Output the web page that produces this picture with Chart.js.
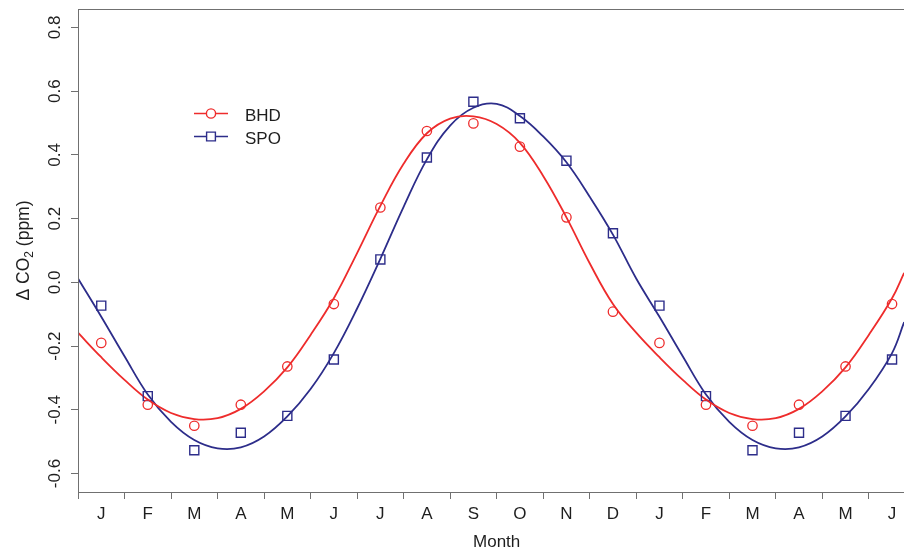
<!DOCTYPE html>
<html>
<head>
<meta charset="utf-8">
<script src="https://cdn.jsdelivr.net/npm/chart.js@4/dist/chart.umd.min.js"></script>
<style>
  html, body { margin: 0; padding: 0; background: #fff; overflow: hidden; }
  /* plot runs past the right edge of the window, like the cropped original */
  #wrap { width: 930px; height: 549px; }
</style>
</head>
<body>
<div id="wrap"><canvas id="dia"></canvas></div>
<script>
// ===============================
// Data
// ===============================
const months = ["J","F","M","A","M","J","J","A","S","O","N","D","J","F","M","A","M","J"];
const monthX = [0.5,1.5,2.5,3.5,4.5,5.5,6.5,7.5,8.5,9.5,10.5,11.5,12.5,13.5,14.5,15.5,16.5,17.5];

// monthly means
const bhd = [-0.19,-0.384,-0.45,-0.384,-0.264,-0.068,0.235,0.475,0.499,0.426,0.204,-0.092,
             -0.19,-0.384,-0.45,-0.384,-0.264,-0.068];
const spo = [-0.073,-0.357,-0.527,-0.472,-0.419,-0.242,0.072,0.392,0.567,0.515,0.382,0.154,
             -0.073,-0.357,-0.527,-0.472,-0.419,-0.242];

// fitted curves, read every half month
const fitT = [0,0.5,1,1.5,2,2.5,3,3.5,4,4.5,5,5.5,6,6.5,7,7.5,8,8.5,9,9.5,10,10.5,11,11.5,
              12,12.5,13,13.5,14,14.5,15,15.5,16,16.5,17,17.5,17.76];
const bhdFit = [-0.158,-0.235,-0.306,-0.368,-0.410,-0.429,-0.426,-0.397,-0.342,-0.267,-0.165,-0.050,
                0.092,0.240,0.372,0.468,0.514,0.521,0.497,0.438,0.334,0.204,0.060,-0.068,
                -0.158,-0.235,-0.306,-0.368,-0.410,-0.429,-0.426,-0.397,-0.342,-0.267,-0.165,-0.050,0.030];
const spoFit = [0.012,-0.108,-0.232,-0.352,-0.438,-0.495,-0.521,-0.518,-0.484,-0.421,-0.335,-0.222,
                -0.082,0.074,0.237,0.386,0.492,0.548,0.560,0.522,0.458,0.377,0.269,0.150,
                0.012,-0.108,-0.232,-0.352,-0.438,-0.495,-0.521,-0.518,-0.484,-0.421,-0.335,-0.222,-0.125];

// axes
const xTicks = [0,1,2,3,4,5,6,7,8,9,10,11,12,13,14,15,16,17,18];
const yTicks = [-0.6,-0.4,-0.2,0,0.2,0.4,0.6,0.8];
const yLabels = ["-0.6","-0.4","-0.2","0.0","0.2","0.4","0.6","0.8"];

// ===============================
// Styles
// ===============================
const FONT = '"Liberation Sans", Arial, Helvetica, sans-serif';
const RED = "#ee2c2c";
const BLUE = "#2d2d8a";
const AXIS = "#707070";
const TXT = "#1e1e1e";

function pts(xs, ys) {
    return xs.map((x, i) => ({ x: x, y: ys[i] }));
}

// ===============================
// Box, labels, titles and legend
// ===============================
const decor = {
    id: "decor",
    afterDraw(chart) {
        const ctx = chart.ctx;
        const a = chart.chartArea;
        const xs = chart.scales.x;
        const ys = chart.scales.y;
        ctx.save();

        // box round the plot
        ctx.strokeStyle = AXIS;
        ctx.lineWidth = 1;
        ctx.strokeRect(a.left + 0.5, a.top + 0.5, a.right - a.left, a.bottom - a.top);

        ctx.fillStyle = TXT;
        ctx.font = "17px " + FONT;

        // month letters in the middle of each month
        ctx.textAlign = "center";
        ctx.textBaseline = "alphabetic";
        months.forEach((m, i) => {
            ctx.fillText(m, xs.getPixelForValue(monthX[i]), 519);
        });

        // y tick labels, turned like R does
        yTicks.forEach((v, i) => {
            ctx.save();
            ctx.translate(60, ys.getPixelForValue(v));
            ctx.rotate(-Math.PI / 2);
            ctx.fillText(yLabels[i], 0, 0);
            ctx.restore();
        });

        // x title
        ctx.fillText("Month", (a.left + a.right) / 2, 547);

        // y title with subscript 2
        ctx.save();
        ctx.translate(29, (a.top + a.bottom) / 2);
        ctx.rotate(-Math.PI / 2);
        const p1 = "\u0394 CO", p3 = " (ppm)";
        ctx.font = "17.5px " + FONT;
        const w1 = ctx.measureText(p1).width;
        const w3 = ctx.measureText(p3).width;
        ctx.font = "12px " + FONT;
        const w2 = ctx.measureText("2").width;
        const start = -(w1 + w2 + w3) / 2;
        ctx.textAlign = "left";
        ctx.font = "17.5px " + FONT;
        ctx.fillText(p1, start, 0);
        ctx.font = "12px " + FONT;
        ctx.fillText("2", start + w1, 4);
        ctx.font = "17.5px " + FONT;
        ctx.fillText(p3, start + w1 + w2, 0);
        ctx.restore();

        // legend
        const rows = [
            { label: "BHD", color: RED, y: 113.5, shape: "circle" },
            { label: "SPO", color: BLUE, y: 136.5, shape: "rect" }
        ];
        rows.forEach(r => {
            ctx.strokeStyle = r.color;
            ctx.lineWidth = 1.6;
            ctx.beginPath();
            ctx.moveTo(194, r.y);
            ctx.lineTo(228, r.y);
            ctx.stroke();
            ctx.fillStyle = "#fff";
            ctx.lineWidth = 1.4;
            ctx.beginPath();
            if (r.shape === "circle") ctx.arc(211, r.y, 4.6, 0, Math.PI * 2);
            else ctx.rect(206.6, r.y - 4.4, 8.8, 8.8);
            ctx.fill();
            ctx.stroke();
            ctx.fillStyle = TXT;
            ctx.font = "17px " + FONT;
            ctx.textAlign = "left";
            ctx.fillText(r.label, 245, r.y + 7);
        });

        ctx.restore();
    }
};

// ===============================
// Chart
// ===============================
const chart = new Chart(document.getElementById("dia"), {
    type: "line",
    data: {
        datasets: [
            {
                label: "BHD",
                data: pts(monthX, bhd),
                showLine: false,
                pointStyle: "circle",
                pointRadius: 4.7,
                pointBorderWidth: 1.3,
                pointBorderColor: RED,
                pointBackgroundColor: "rgba(0,0,0,0)"
            },
            {
                label: "SPO",
                data: pts(monthX, spo),
                showLine: false,
                pointStyle: "rect",
                pointRadius: 6.4,
                pointBorderWidth: 1.4,
                pointBorderColor: BLUE,
                pointBackgroundColor: "rgba(0,0,0,0)"
            },
            {
                label: "BHD fit",
                data: pts(fitT, bhdFit),
                borderColor: RED,
                borderWidth: 1.8,
                pointRadius: 0,
                tension: 0.4,
                fill: false
            },
            {
                label: "SPO fit",
                data: pts(fitT, spoFit),
                borderColor: BLUE,
                borderWidth: 1.8,
                pointRadius: 0,
                tension: 0.4,
                fill: false
            }
        ]
    },
    options: {
        responsive: true,
        maintainAspectRatio: false,
        animation: false,
        devicePixelRatio: 1,
        events: [],
        layout: { padding: { top: 9, right: 14.7, bottom: 0, left: 0 } },
        plugins: { legend: { display: false }, tooltip: { enabled: false } },
        scales: {
            x: {
                type: "linear",
                min: 0,
                max: 18,
                afterBuildTicks: s => { s.ticks = xTicks.map(v => ({ value: v })); },
                afterFit: s => { s.height = 57; },
                ticks: { display: false },
                grid: { drawOnChartArea: false, drawTicks: true, tickLength: 7, color: AXIS, lineWidth: 1 },
                border: { display: false }
            },
            y: {
                type: "linear",
                min: -0.658,
                max: 0.858,
                afterBuildTicks: s => { s.ticks = yTicks.map(v => ({ value: v })); },
                afterFit: s => { s.width = 78; },
                ticks: { display: false },
                grid: { drawOnChartArea: false, drawTicks: true, tickLength: 7, color: AXIS, lineWidth: 1 },
                border: { display: false }
            }
        }
    },
    plugins: [decor]
});
</script>
</body>
</html>
